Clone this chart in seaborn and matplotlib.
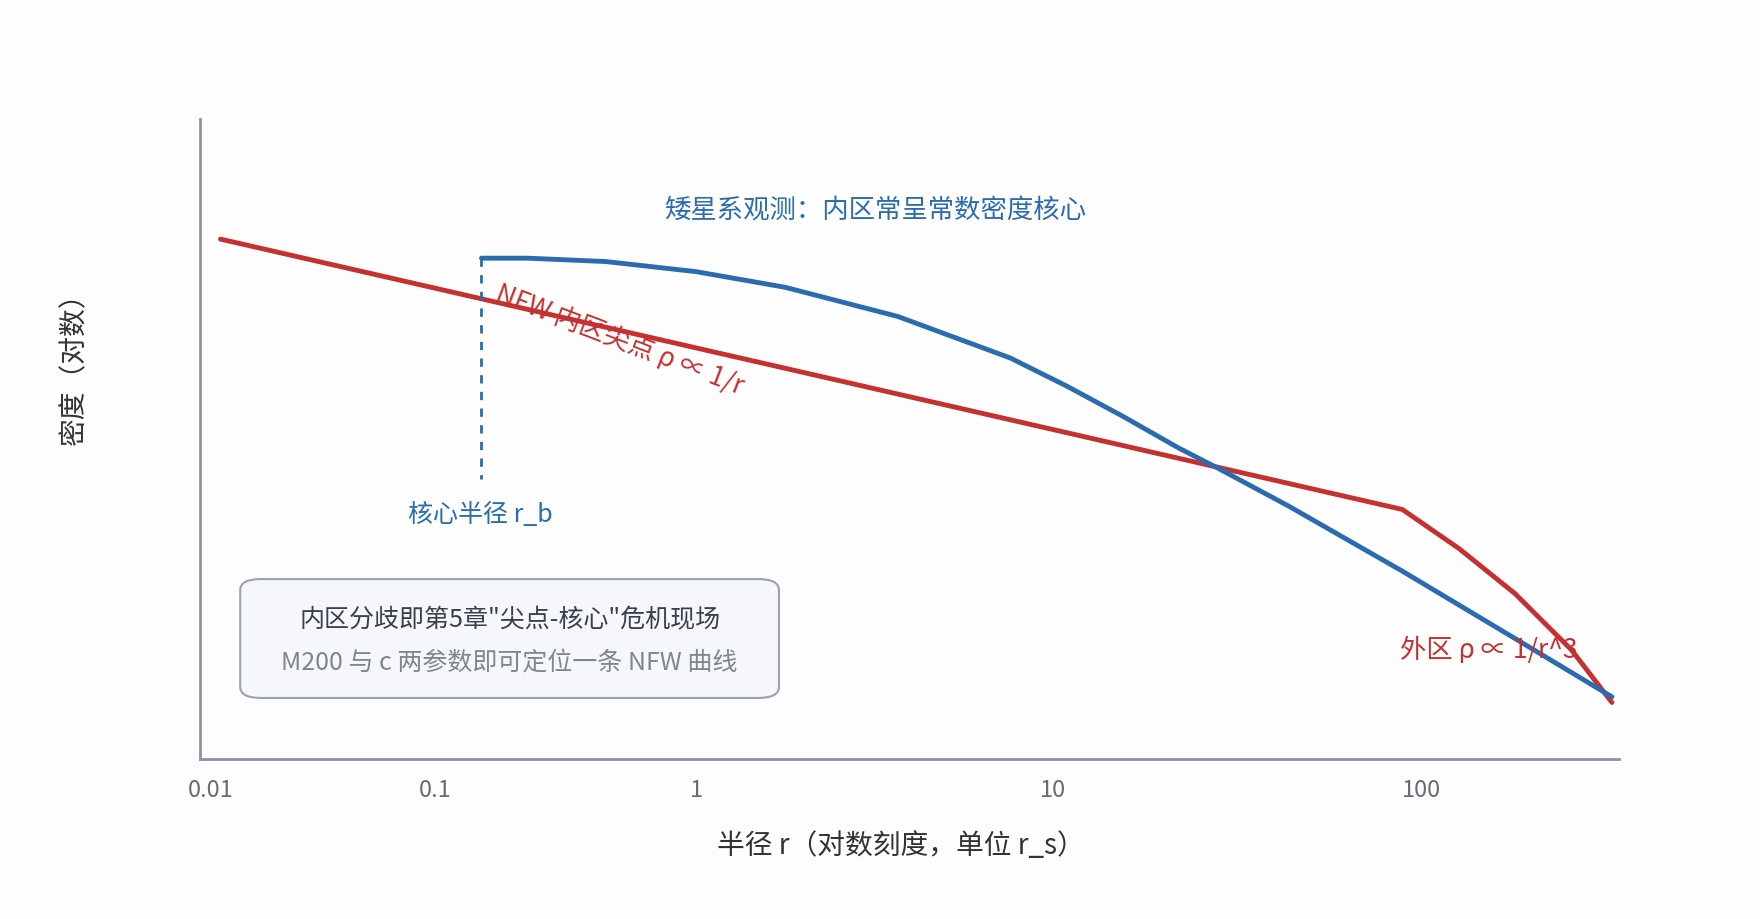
import numpy as np
import matplotlib
matplotlib.use("Agg")
import matplotlib.pyplot as plt
import seaborn as sns
from matplotlib.patches import FancyBboxPatch

sns.set_theme(style="white")
plt.rcParams['font.family'] = ['Noto Sans CJK SC', 'DejaVu Sans']

# data
nfw_r = [0.011, 89, 127, 180, 256, 330]
nfw_rho = [4.86, 2.45, 2.10, 1.70, 1.20, 0.73]
core_r = [0.15, 0.225, 0.45, 1.0, 1.78, 3.68, 7.6, 10.9, 15.5, 21.9, 28, 43.7, 89, 180, 330]
core_rho = [4.69, 4.69, 4.66, 4.57, 4.43, 4.17, 3.80, 3.55, 3.28, 3.00, 2.82, 2.48, 1.90, 1.30, 0.78]
r_core = 0.15
tick_vals = [0.01, 0.1, 1, 10, 100]
tick_labels = ["0.01", "0.1", "1", "10", "100"]

# non-uniform decade spacing (display positions per decade)
kx = np.array([-2., -1., 0., 1., 2.])
ky = np.array([188., 388., 620., 938., 1266.])

def fwd(x):
    l = np.log10(np.clip(np.asarray(x, float), 1e-9, None))
    out = np.interp(l, kx, ky)
    lo = l < kx[0]; hi = l > kx[-1]
    out = np.where(lo, ky[0] + (l - kx[0]) * 200, out)
    out = np.where(hi, ky[-1] + (l - kx[-1]) * 328, out)
    return out

def inv(p):
    p = np.asarray(p, float)
    l = np.interp(p, ky, kx)
    l = np.where(p < ky[0], kx[0] + (p - ky[0]) / 200, l)
    l = np.where(p > ky[-1], kx[-1] + (p - ky[-1]) / 328, l)
    return 10 ** l

W, H = 1568, 820
fig = plt.figure(figsize=(17.6, 9.2), dpi=100)
fig.patch.set_facecolor("#fdfdfd")
ax = fig.add_axes([178 / W, 1 - 677 / H, (1442 - 178) / W, (677 - 107) / H])
ax.set_facecolor("#fdfdfd")
ax.set_xscale("function", functions=(fwd, inv))
ax.set_xlim(0.0089, 344)
ax.set_ylim(0.23, 5.93)

red = "#c53030"
blue = "#2b6cb0"
sns.lineplot(x=nfw_r, y=nfw_rho, ax=ax, color=red, lw=3.5, sort=False)
sns.lineplot(x=core_r, y=core_rho, ax=ax, color=blue, lw=3.5, sort=False)
ax.plot([r_core, r_core], [core_rho[0], 2.72], color=blue, lw=2, ls=(0, (3, 3)))

ax.set_xticks(tick_vals)
ax.set_xticklabels(tick_labels)
ax.xaxis.set_minor_locator(matplotlib.ticker.NullLocator())
ax.set_yticks([])
ax.tick_params(axis='x', colors="#666b75", labelsize=17, length=0, pad=14)
for s in ["top", "right"]:
    ax.spines[s].set_visible(False)
for s in ["left", "bottom"]:
    ax.spines[s].set_color("#8a93a6")
    ax.spines[s].set_linewidth(2)

def ft(x, y, s, **kw):
    fig.text(x / W, 1 - y / H, s, **kw)

ft(803, 754, "半径 r（对数刻度，单位 r_s）", ha="center", va="center", fontsize=20, color="#333")
ft(66, 322, "密度（对数）", ha="center", va="center", fontsize=20, color="#333", rotation=90)
ft(780, 188, "矮星系观测：内区常呈常数密度核心", ha="center", va="center", fontsize=19, color=blue)
ft(447, 250, "NFW 内区尖点 ρ ∝ 1/r", ha="left", va="top", fontsize=19, color=red,
   rotation=-21, rotation_mode="anchor")
ft(428, 459, "核心半径 r_b", ha="center", va="center", fontsize=18, color=blue)
ft(1247, 580, "外区 ρ ∝ 1/r^3", ha="left", va="center", fontsize=19, color=red)

box = FancyBboxPatch((214 / W, 1 - 623 / H), (694 - 214) / W, (623 - 517) / H,
                     boxstyle="round,pad=0,rounding_size=0.012", transform=fig.transFigure,
                     facecolor="#f5f7fa", edgecolor="#9aa3b2", lw=1.5)
fig.patches.append(box)
ft(454, 553, "内区分歧即第5章\"尖点-核心\"危机现场", ha="center", va="center", fontsize=18, color="#3a3f4a")
ft(454, 591, "M200 与 c 两参数即可定位一条 NFW 曲线", ha="center", va="center", fontsize=18, color="#80868f")

fig.savefig("out.png", dpi=100, facecolor=fig.get_facecolor())
